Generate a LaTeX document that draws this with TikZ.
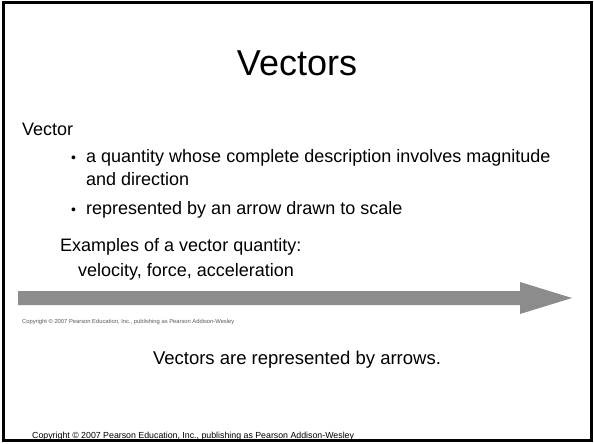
\documentclass[tikz,border=0pt]{standalone}
\usepackage{fontspec}
\setmainfont{Liberation Sans}
\definecolor{arrowgray}{RGB}{140,140,140}
\definecolor{copygray}{RGB}{90,90,90}
\tikzset{
  body/.style={anchor=base west, inner sep=0pt, font=\fontsize{18}{21}\selectfont},
  bul/.style={anchor=base west, inner sep=0pt, font=\fontsize{14}{16}\selectfont},
  frame/.style={draw=black, line width=3pt},
}
\begin{document}
\begin{tikzpicture}[x=1pt,y=-1pt]
\useasboundingbox[fill=white] (0,0) rectangle (594,444);
\draw[frame] (3.5,3) rectangle (591.5,440);
\node[anchor=base, inner sep=0pt, font=\fontsize{36}{40}\selectfont] (title) at (297,75) {Vectors};
\node[body] (vec) at (22,135) {Vector};
\node[bul] (b1) at (71,162) {\textbullet};
\node[body] (t1) at (86,162) {a quantity whose complete description involves magnitude};
\node[body] (t1b) at (86,185) {and direction};
\node[bul] (b2) at (71,214) {\textbullet};
\node[body] (t2) at (86,214) {represented by an arrow drawn to scale};
\node[body] (ex) at (60,251) {Examples of a vector quantity:};
\node[body] (vel) at (78,276) {velocity, force, acceleration};
\fill[arrowgray] (18,291) -- (520,291) -- (520,282) -- (572,298) -- (520,314) -- (520,305) -- (18,305) -- cycle;
\node[anchor=base west, inner sep=0pt, text=copygray, font=\fontsize{5.8}{6}\selectfont] (c1) at (22,323) {Copyright \textcopyright\ 2007 Pearson Education, Inc., publishing as Pearson Addison-Wesley};
\node[anchor=base, inner sep=0pt, font=\fontsize{18.5}{21}\selectfont] (cap) at (297,364) {Vectors are represented by arrows.};
\node[anchor=base west, inner sep=0pt, font=\fontsize{8.8}{9}\selectfont] (c2) at (32,438) {Copyright \textcopyright\ 2007 Pearson Education, Inc., publishing as Pearson Addison-Wesley};
\end{tikzpicture}
\end{document}
